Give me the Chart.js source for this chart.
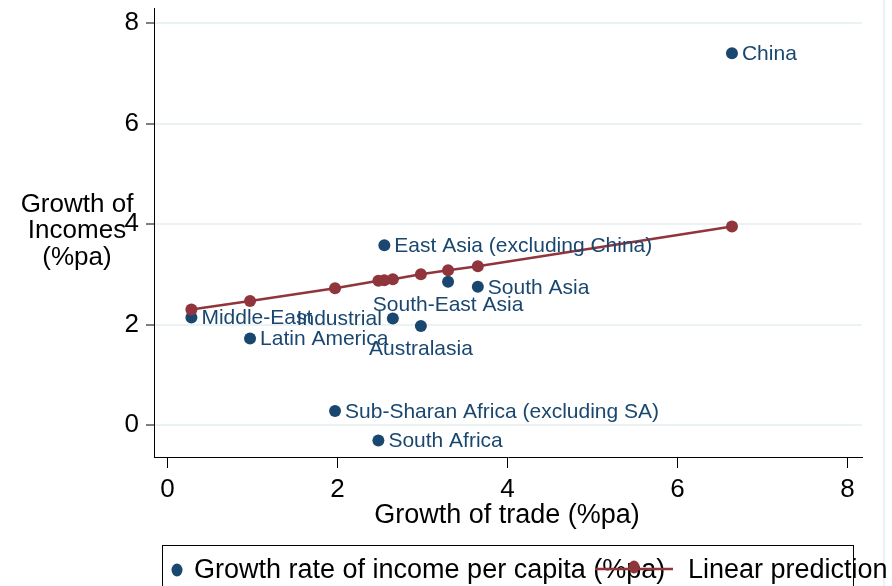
<!DOCTYPE html>
<html>
<head>
<meta charset="utf-8">
<script src="https://cdn.jsdelivr.net/npm/chart.js@4/dist/chart.umd.min.js"></script>
<style>
html,body{margin:0;padding:0;background:#fff;}
#wrap{width:892px;height:586px;position:relative;}
</style>
</head>
<body>
<div id="wrap"><canvas id="c" width="892" height="586"></canvas></div>
<script>
// ---- data ----
const regions = ['China','East Asia (excluding China)','South Asia','South-East Asia','Middle-East','Industrial','Australasia','Latin America','Sub-Sharan Africa (excluding SA)','South Africa'];
const tradeGrowth = [6.64, 2.55, 3.65, 3.30, 0.28, 2.65, 2.98, 0.97, 1.97, 2.48];
const incomeGrowth = [7.40, 3.58, 2.75, 2.85, 2.14, 2.12, 1.97, 1.72, 0.28, -0.31];
const predictedIncome = [3.95, 2.88, 3.16, 3.08, 2.30, 2.90, 3.00, 2.47, 2.72, 2.87];
const labelPlacement = ['right','right','right','below','right','left','below','right','right','right'];
const xTickValues = [0, 2, 4, 6, 8];
const yTickValues = [0, 2, 4, 6, 8];
const seriesNames = ['Growth rate of income per capita (%pa)', 'Linear prediction'];
const xTitle = 'Growth of trade (%pa)';
const yTitleLines = ['Growth of', 'Incomes', '(%pa)'];

const BLUE = '#1a476f';
const RED = '#90353b';
const GRID = '#eaf2f3';
const FONT = '"Liberation Sans", Arial, sans-serif';

const scatterData = tradeGrowth.map((x, i) => ({x: x, y: incomeGrowth[i]}));
const lineData = tradeGrowth.map((x, i) => ({x: x, y: predictedIncome[i]})).sort((a, b) => a.x - b.x);

const overlay = {
  id: 'overlay',
  afterDatasetsDraw(chart) {
    const ctx = chart.ctx;
    const meta = chart.getDatasetMeta(0);
    ctx.save();
    ctx.font = '21px ' + FONT;
    ctx.fillStyle = BLUE;
    meta.data.forEach((pt, i) => {
      const p = labelPlacement[i];
      if (p === 'right') {
        ctx.textAlign = 'left'; ctx.textBaseline = 'middle';
        ctx.fillText(regions[i], pt.x + 10, pt.y + 1);
      } else if (p === 'left') {
        ctx.textAlign = 'right'; ctx.textBaseline = 'middle';
        ctx.fillText(regions[i], pt.x - 11, pt.y + 1);
      } else {
        ctx.textAlign = 'center'; ctx.textBaseline = 'middle';
        ctx.fillText(regions[i], pt.x, pt.y + 23);
      }
    });
    ctx.restore();
  },
  afterDraw(chart) {
    const ctx = chart.ctx;
    ctx.save();
    ctx.strokeStyle = GRID; ctx.lineWidth = 2;
    ctx.beginPath(); ctx.moveTo(884, 0); ctx.lineTo(884, 586); ctx.stroke();
    ctx.fillStyle = '#000';
    ctx.font = '27px ' + FONT;
    ctx.textAlign = 'center'; ctx.textBaseline = 'middle';
    const ca = chart.chartArea;
    ctx.fillText(xTitle, (ca.left + ca.right) / 2 - 1, 516);
    ctx.font = '26px ' + FONT;
    const ys = [205, 231, 258];
    yTitleLines.forEach((t, i) => ctx.fillText(t, 77, ys[i]));
    // legend
    ctx.strokeStyle = '#000'; ctx.lineWidth = 1;
    ctx.strokeRect(162.5, 545.5, 691, 60);
    ctx.fillStyle = BLUE;
    ctx.beginPath(); ctx.ellipse(177, 570, 5.5, 6.5, 0, 0, Math.PI * 2); ctx.fill();
    ctx.fillStyle = '#000';
    ctx.textAlign = 'left'; ctx.textBaseline = 'middle';
    ctx.font = '27px ' + FONT;
    ctx.fillText(seriesNames[0], 194, 571);
    ctx.strokeStyle = RED; ctx.lineWidth = 2.5;
    ctx.beginPath(); ctx.moveTo(595, 569); ctx.lineTo(673, 569); ctx.stroke();
    ctx.fillStyle = RED;
    ctx.beginPath(); ctx.ellipse(634, 567, 5.5, 6.5, 0, 0, Math.PI * 2); ctx.fill();
    ctx.fillStyle = '#000';
    ctx.fillText(seriesNames[1], 688, 571);
    ctx.restore();
  }
};

new Chart(document.getElementById('c'), {
  type: 'scatter',
  data: {
    datasets: [
      {
        label: seriesNames[0],
        data: scatterData,
        backgroundColor: BLUE,
        borderColor: BLUE,
        pointRadius: 6,
        pointBorderWidth: 0,
        showLine: false,
        order: 1
      },
      {
        label: seriesNames[1],
        data: lineData,
        backgroundColor: RED,
        borderColor: RED,
        borderWidth: 2.5,
        pointRadius: 6,
        pointBorderWidth: 0,
        showLine: true,
        tension: 0,
        order: 0
      }
    ]
  },
  options: {
    responsive: false,
    animation: false,
    devicePixelRatio: 1,
    layout: {padding: {top: 8, right: 30, left: 0, bottom: 0}},
    plugins: {legend: {display: false}, tooltip: {enabled: false}, title: {display: false}},
    scales: {
      x: {
        type: 'linear',
        min: -0.16,
        max: 8.17,
        afterBuildTicks: s => { s.ticks = xTickValues.map(v => ({value: v})); },
        afterFit: s => { s.height = 129; s.paddingLeft = 0; s.paddingRight = 0; },
        grid: {drawOnChartArea: false, drawTicks: true, tickLength: 11, tickColor: '#000', tickWidth: 1},
        border: {display: true, color: '#000', width: 1},
        ticks: {color: '#000', font: {family: FONT, size: 26}, padding: 6, maxRotation: 0, autoSkip: false}
      },
      y: {
        type: 'linear',
        min: -0.637,
        max: 8.3,
        afterBuildTicks: s => { s.ticks = yTickValues.map(v => ({value: v})); },
        afterFit: s => { s.width = 154; s.paddingTop = 0; s.paddingBottom = 0; },
        grid: {color: GRID, lineWidth: 2, drawTicks: true, tickLength: 8, tickColor: '#000', tickWidth: 1},
        border: {display: true, color: '#000', width: 1},
        ticks: {color: '#000', font: {family: FONT, size: 26}, padding: 7, autoSkip: false}
      }
    }
  },
  plugins: [overlay]
});
</script>
</body>
</html>
